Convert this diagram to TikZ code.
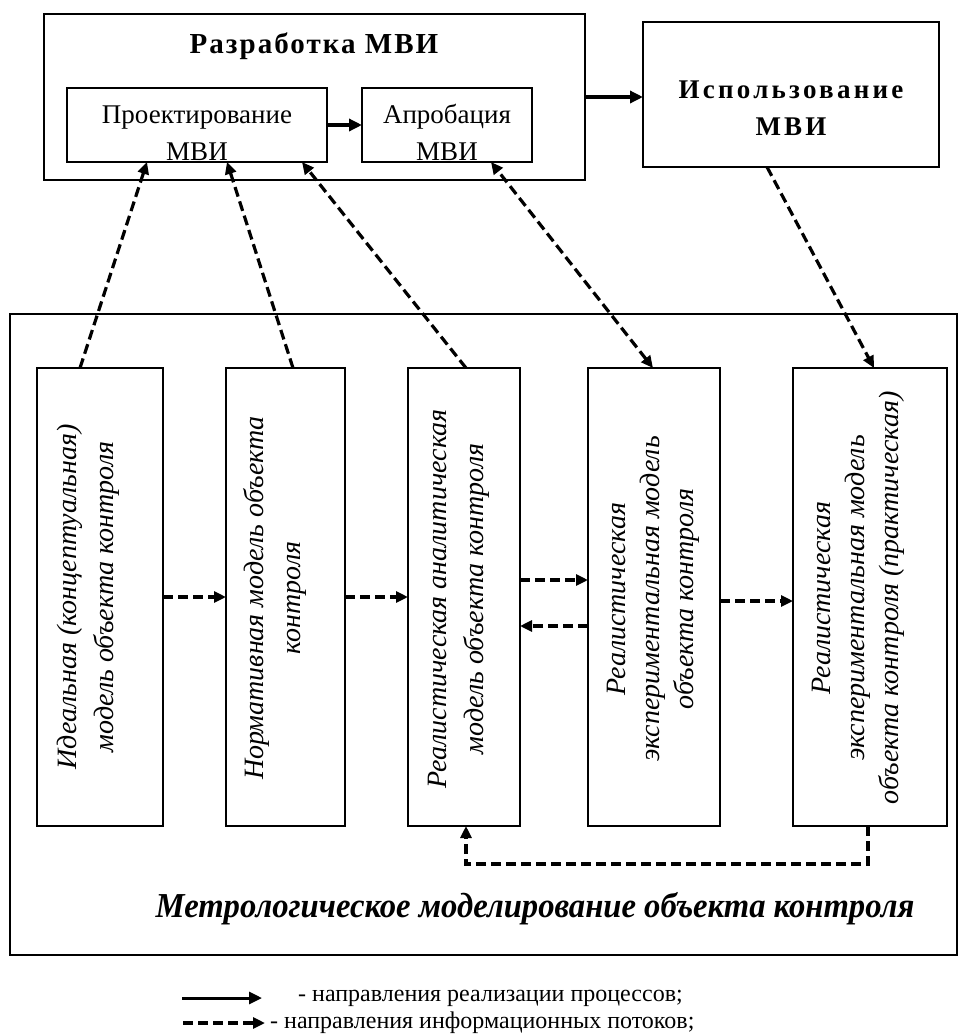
\documentclass[tikz,border=0pt]{standalone}
\usepackage{fontspec}
\setmainfont{Liberation Serif}
\usetikzlibrary{arrows.meta,calc}
\begin{document}
\begin{tikzpicture}[x=1pt,y=-1pt,
  boxst/.style={draw, line width=1.9pt, inner sep=0pt, outer sep=0pt, anchor=north west, fill=none},
  solarr/.style={line width=3.4pt, -{Triangle[length=13pt,width=12pt]}},
  dasharr/.style={line width=3.2pt, dash pattern=on 10pt off 5pt, -{Triangle[length=12pt,width=11pt]}},
  dasharrb/.style={line width=3.2pt, dash pattern=on 10pt off 5pt, {Triangle[length=12pt,width=11pt]}-{Triangle[length=12pt,width=11pt]}},
  rottxt/.style={rotate=90, align=center, inner sep=0pt, font=\fontsize{28}{37}\selectfont\itshape},
  toptxt/.style={inner sep=0pt, anchor=base, font=\fontsize{27}{32}\selectfont},
  boldtxt/.style={inner sep=0pt, anchor=base, font=\fontsize{29}{32}\selectfont\bfseries}
]
\useasboundingbox (0,0) rectangle (962,1034);
\fill[white] (0,0) rectangle (962,1034);

% upper boxes
\node[boxst, minimum width=541pt, minimum height=166pt] (razr) at (44,14) {};
\node[boxst, minimum width=260pt, minimum height=74pt] (proekt) at (67,88) {};
\node[boxst, minimum width=170pt, minimum height=74pt] (aprob) at (362,88) {};
\node[boxst, minimum width=296pt, minimum height=145pt] (ispol) at (643,22) {};

\node[boldtxt] (trazr) at (314,53) {\addfontfeatures{LetterSpace=7}Разработка МВИ};
\node[toptxt] (tpr1) at (197,123) {Проектирование};
\node[toptxt] (tpr2) at (197,160) {МВИ};
\node[toptxt] (tap1) at (447,123) {Апробация};
\node[toptxt] (tap2) at (447,160) {МВИ};
\node[boldtxt, font=\fontsize{27}{32}\selectfont\bfseries] (tis1) at (791,98) {\addfontfeatures{LetterSpace=12}Использование};
\node[boldtxt, font=\fontsize{27}{32}\selectfont\bfseries] (tis2) at (791,135) {\addfontfeatures{LetterSpace=12}МВИ};

% lower frame
\node[boxst, minimum width=947pt, minimum height=641pt] (metro) at (10,314) {};
\node[boxst, minimum width=126pt, minimum height=458pt] (b1) at (37,368) {};
\node[boxst, minimum width=119pt, minimum height=458pt] (b2) at (226,368) {};
\node[boxst, minimum width=112pt, minimum height=458pt] (b3) at (408,368) {};
\node[boxst, minimum width=132pt, minimum height=458pt] (b4) at (588,368) {};
\node[boxst, minimum width=154pt, minimum height=458pt] (b5) at (793,368) {};

\node[rottxt] (r1) at (88.5,597) {Идеальная (концептуальная)\\модель объекта контроля};
\node[rottxt] (r2) at (274.5,598) {Нормативная модель объекта\\контроля};
\node[rottxt] (r3) at (458.5,599) {Реалистическая аналитическая\\модель объекта контроля};
\node[rottxt, font=\fontsize{28}{34}\selectfont\itshape] (r4) at (653.5,599) {Реалистическая\\экспериментальная модель\\объекта контроля};
\node[rottxt, font=\fontsize{28}{34}\selectfont\itshape] (r5) at (858,598) {Реалистическая\\экспериментальная модель\\объекта контроля (практическая)};

\node[inner sep=0pt, font=\fontsize{35}{40}\selectfont\bfseries\itshape] (cap) at (535,909) {\scalebox{0.933}[1]{Метрологическое моделирование объекта контроля}};

% solid arrows
\draw[solarr] (proekt.east) -- (aprob.west);
\draw[solarr] (razr.east) -- (razr.east -| ispol.west);

% dashed diagonal arrows
\draw[dasharr] ([xshift=-20pt]b1.north) -- ([xshift=-50pt]proekt.south);
\draw[dasharr] ([xshift=7.5pt]b2.north) -- ([xshift=30pt]proekt.south);
\draw[dasharr] ([xshift=2pt]b3.north) -- ([xshift=105pt]proekt.south);
\draw[dasharrb] ([xshift=-1pt]b4.north) -- ([xshift=44pt]aprob.south);
\draw[dasharr] ([xshift=-24pt]ispol.south) -- ([xshift=4pt]b5.north);

% horizontal dashed arrows
\draw[dasharr] (b1.east) -- (b2.west);
\draw[dasharr] (b2.east) -- (b3.west);
\draw[dasharr] ([yshift=17pt]b3.east) -- ([yshift=17pt]b4.west);
\draw[dasharr] ([yshift=-29pt]b4.west) -- ([yshift=-29pt]b3.east);
\draw[dasharr] ([yshift=-4pt]b4.east) -- ([yshift=-4pt]b5.west);
\draw[dasharr] ([xshift=-2pt]b5.south) -- ++(0,38) -| ([xshift=2pt]b3.south);

% legend
\coordinate (ls1) at (182,998);
\coordinate (le1) at (262,998);
\coordinate (ls2) at (183,1023);
\coordinate (le2) at (265,1023);
\draw[solarr, line width=3pt] (ls1) -- (le1);
\draw[dasharr] (ls2) -- (le2);
\node[inner sep=0pt, anchor=west, font=\fontsize{24}{28}\selectfont] (lg1) at (298,998) {- направления реализации процессов;};
\node[inner sep=0pt, anchor=west, font=\fontsize{24}{28}\selectfont] (lg2) at (270,1023) {- направления информационных потоков;};
\end{tikzpicture}
\end{document}
